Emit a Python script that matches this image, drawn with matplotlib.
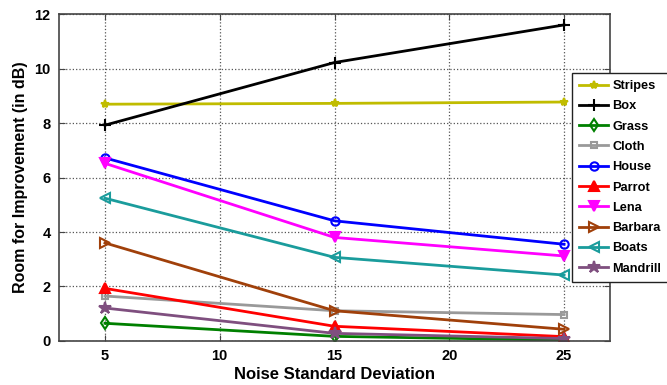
import matplotlib
matplotlib.use("Agg")
import matplotlib.pyplot as plt

plt.rcParams['font.family'] = ['Liberation Sans', 'DejaVu Sans']
plt.rcParams['font.weight'] = 'bold'

noise = [5, 15, 25]
names = ["Stripes", "Box", "Grass", "Cloth", "House", "Parrot", "Lena", "Barbara", "Boats", "Mandrill"]
stripes = [8.69, 8.72, 8.77]
box = [7.92, 10.22, 11.6]
grass = [0.65, 0.17, 0.03]
cloth = [1.65, 1.11, 0.97]
house = [6.72, 4.41, 3.55]
parrot = [1.93, 0.54, 0.16]
lena = [6.52, 3.8, 3.12]
barbara = [3.6, 1.11, 0.43]
boats = [5.24, 3.07, 2.42]
mandrill = [1.21, 0.28, 0.09]

series = [stripes, box, grass, cloth, house, parrot, lena, barbara, boats, mandrill]
colors = ['#C0BC00', '#000000', '#008000', '#999999', '#0000FF', '#FF0000',
          '#FF00FF', '#A0400A', '#1A9C9C', '#7F4F7F']
markers = ['*', '+', 'd', 's', 'o', '^', 'v', '>', '<', '*']
filled = [True, True, False, False, False, True, True, False, False, True]
msizes = [6, 8, 6, 5, 6, 7, 7, 7, 7, 9]

fig = plt.figure(figsize=(6.67, 3.85), dpi=100)
ax = fig.add_axes([0.0885, 0.1143, 0.826, 0.8493])

for vals, name, c, m, f, ms in zip(series, names, colors, markers, filled, msizes):
    ax.plot(noise, vals, color=c, marker=m, markersize=ms, linewidth=2,
            markerfacecolor=(c if f else 'none'), markeredgecolor=c,
            markeredgewidth=1.5, label=name)

ax.set_xlim(3, 27)
ax.set_ylim(0, 12)
ax.set_xticks([5, 10, 15, 20, 25])
ax.set_yticks([0, 2, 4, 6, 8, 10, 12])
ax.grid(True, linestyle=':', color='#555555', linewidth=0.9)
ax.tick_params(direction='in', top=True, right=True, labelsize=10.5, length=4,
               color='#444444', pad=6)
for s in ax.spines.values():
    s.set_color('#444444')
    s.set_linewidth(1.2)
ax.set_xlabel('Noise Standard Deviation', fontsize=12, fontweight='bold', labelpad=3)
ax.set_ylabel('Room for Improvement (in dB)', fontsize=11.5, fontweight='bold', labelpad=5)

leg = fig.legend(loc='upper left', bbox_to_anchor=(0.8576, 0.8104), fontsize=9.2,
                 frameon=True, fancybox=False, edgecolor='#222222', framealpha=1,
                 labelspacing=0.65, handlelength=2.3, borderpad=0.55, handletextpad=0.3,
                 borderaxespad=0)
leg.get_frame().set_linewidth(1.0)

fig.savefig('out.png', dpi=100)
